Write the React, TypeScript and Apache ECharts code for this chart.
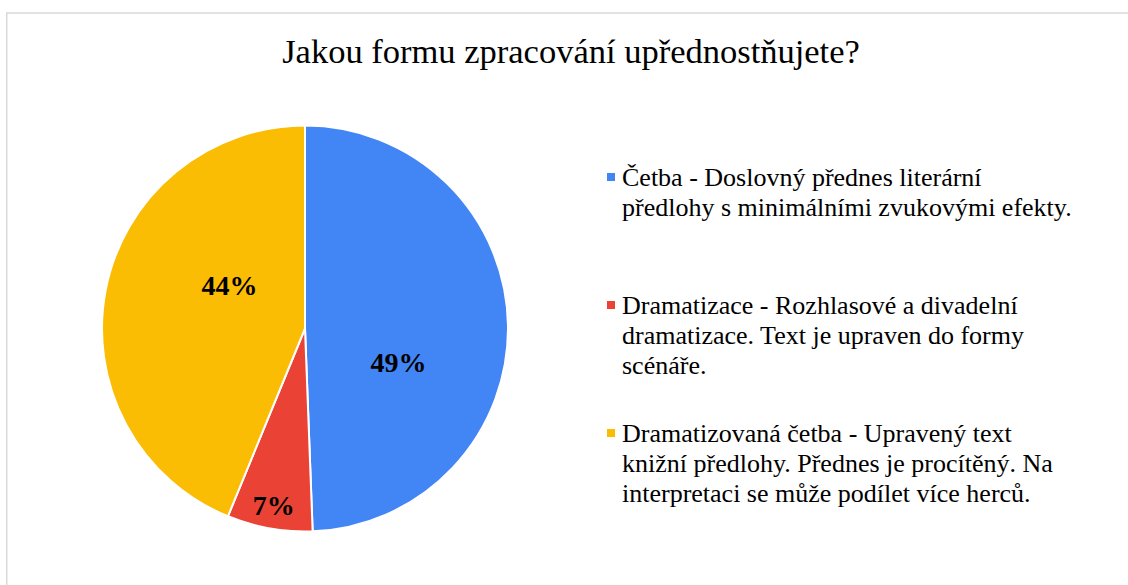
import React, { useEffect, useRef } from "react";
import * as echarts from "echarts";

const titleText = "Jakou formu zpracování upřednostňujete?";
const categories = ["Četba", "Dramatizace", "Dramatizovaná četba"];
const values = [49.4, 6.8, 43.8];
const colors = ["#4285F4", "#EA4335", "#FBBC04"];
const legendLines = [
  ["Četba - Doslovný přednes literární", "předlohy s minimálními zvukovými efekty."],
  ["Dramatizace - Rozhlasové a divadelní", "dramatizace. Text je upraven do formy", "scénáře."],
  ["Dramatizovaná četba - Upravený text", "knižní předlohy. Přednes je procítěný. Na", "interpretaci se může podílet více herců."],
];
const labelOffsets = [
  [-11, 36],
  [-13, 74],
  [27, -23],
];
const legendTops = [162, 290, 418];

const FONT = '"Liberation Serif", "Times New Roman", serif';

export default function App() {
  const ref = useRef<HTMLDivElement>(null);
  useEffect(() => {
    if (!ref.current) return;
    const chart = echarts.init(ref.current, null, { renderer: "svg" });
    const LH = 30;
    const legends = categories.map((c, i) => {
      const h = LH * legendLines[i].length;
      // square marker aligned with the first text line; zero-area segments extend the box
      const icon = `path://M0,0L8,0M0,11L8,11L8,19L0,19ZM0,${h}L8,${h}`;
      return {
        data: [c],
        orient: "vertical",
        left: 607,
        top: legendTops[i],
        padding: 0,
        icon,
        itemWidth: 8,
        itemHeight: h,
        selectedMode: false,
        itemStyle: { borderWidth: 0 },
        formatter: () => legendLines[i].join("\n"),
        textStyle: {
          fontFamily: FONT,
          fontSize: 26,
          lineHeight: LH,
          color: "#000",
          padding: [0, 0, 0, 2],
        },
      };
    });
    chart.setOption({
      animation: false,
      backgroundColor: "#fff",
      title: {
        text: titleText,
        left: 571,
        top: 31,
        padding: 0,
        textAlign: "center",
        textStyle: {
          fontFamily: FONT,
          fontSize: 34.5,
          lineHeight: 40,
          fontWeight: "normal",
          color: "#000",
        },
      },
      legend: legends,
      graphic: [
        {
          type: "rect",
          shape: { x: 6.75, y: 13, width: 1300, height: 800 },
          style: { fill: "none", stroke: "#d9d9d9", lineWidth: 1.5 },
          silent: true,
          z: -1,
        },
      ],
      series: [
        {
          type: "pie",
          center: [305, 328.5],
          radius: [0, 203],
          startAngle: 90,
          clockwise: true,
          avoidLabelOverlap: false,
          itemStyle: { borderColor: "#fff", borderWidth: 2 },
          label: {
            show: true,
            position: "inside",
            fontFamily: FONT,
            fontSize: 28,
            fontWeight: "bold",
            color: "#000",
            formatter: (p: any) => Math.round(p.percent) + "%",
          },
          labelLine: { show: false },
          emphasis: { disabled: true },
          data: categories.map((c, i) => ({
            name: c,
            value: values[i],
            itemStyle: { color: colors[i] },
            label: { offset: labelOffsets[i] },
          })),
        },
      ],
    });
    return () => chart.dispose();
  }, []);
  return (
    <div
      ref={ref}
      style={{ position: "fixed", left: 0, top: 0, width: 1128, height: 585 }}
    />
  );
}
